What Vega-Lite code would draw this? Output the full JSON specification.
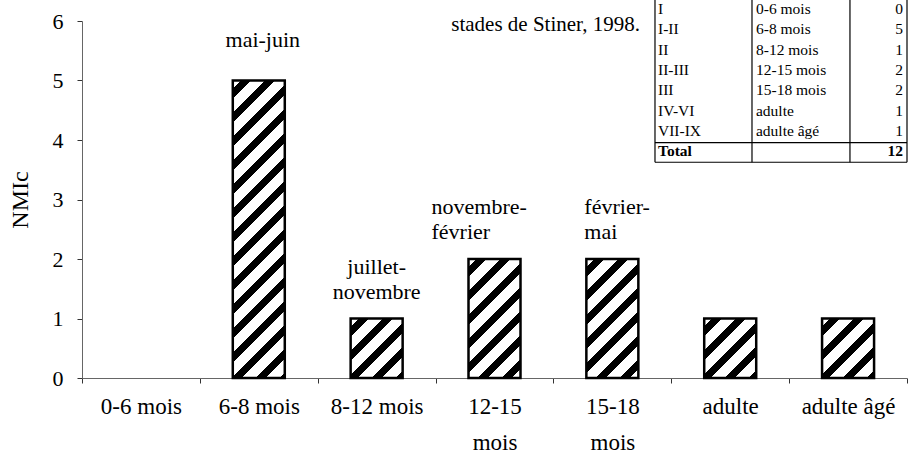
{
  "$schema": "https://vega.github.io/schema/vega-lite/v6.json",
  "width": 825,
  "height": 357,
  "autosize": {"type": "none"},
  "padding": {"left": 82, "top": 21, "right": 2, "bottom": 79},
  "background": "white",
  "config": {"view": {"stroke": null}, "font": "Liberation Serif", "text": {"font": "Liberation Serif", "color": "black"}},
  "datasets": {
    "bars": [
      {"cat": "0-6 mois", "n": 0, "label": ""},
      {"cat": "6-8 mois", "n": 5, "label": "mai-juin"},
      {"cat": "8-12 mois", "n": 1, "label": "juillet-\nnovembre"},
      {"cat": "12-15 mois", "n": 2, "label": "novembre-\nfévrier"},
      {"cat": "15-18 mois", "n": 2, "label": "février-\nmai"},
      {"cat": "adulte", "n": 1, "label": ""},
      {"cat": "adulte âgé", "n": 1, "label": ""}
    ],
    "table": [
      {"row": 0, "stage": "I", "age": "0-6 mois", "count": "0"},
      {"row": 1, "stage": "I-II", "age": "6-8 mois", "count": "5"},
      {"row": 2, "stage": "II", "age": "8-12 mois", "count": "1"},
      {"row": 3, "stage": "II-III", "age": "12-15 mois", "count": "2"},
      {"row": 4, "stage": "III", "age": "15-18 mois", "count": "2"},
      {"row": 5, "stage": "IV-VI", "age": "adulte", "count": "1"},
      {"row": 6, "stage": "VII-IX", "age": "adulte âgé", "count": "1"},
      {"row": 7, "stage": "Total", "age": "", "count": "12"}
    ],
    "tlines": [
      {"x": 0, "x2": 0, "y": -1, "y2": 7.55},
      {"x": 1, "x2": 1, "y": -1, "y2": 7.55},
      {"x": 2.01, "x2": 2.01, "y": -1, "y2": 7.55},
      {"x": 2.598, "x2": 2.598, "y": -1, "y2": 7.55},
      {"x": 0, "x2": 2.598, "y": 6.58, "y2": 6.58},
      {"x": 0, "x2": 2.598, "y": 7.55, "y2": 7.55}
    ],
    "notes": [{"t": "stades de Stiner, 1998."}]
  },
  "layer": [
    {
      "layer": [
        {
          "data": {"name": "bars"},
          "mark": {"type": "bar", "size": 52, "strokeWidth": 2.5, "strokeJoin": "miter"},
          "encoding": {
            "x": {
              "field": "cat", "type": "nominal", "sort": null,
              "scale": {"domain": ["0-6 mois", "6-8 mois", "8-12 mois", "12-15 mois", "15-18 mois", "adulte", "adulte âgé"], "paddingInner": 0, "paddingOuter": 0},
              "axis": {
                "title": null, "labelAngle": 0, "tickBand": "extent",
                "labelFont": "Liberation Serif", "labelFontSize": 23, "labelColor": "black",
                "labelPadding": 12, "labelLineHeight": 36, "tickSize": 5,
                "tickColor": "#333", "domainColor": "#666",
                "labelExpr": "indexof(['12-15 mois','15-18 mois'], datum.value) >= 0 ? split(datum.value, ' ') : datum.value"
              }
            },
            "y": {
              "field": "n", "type": "quantitative",
              "scale": {"domain": [0, 6], "nice": false},
              "axis": {
                "title": "NMIc", "values": [0, 1, 2, 3, 4, 5, 6], "format": "d", "grid": false,
                "tickSize": 5, "labelFont": "Liberation Serif", "labelFontSize": 22, "labelColor": "black",
                "labelPadding": 14, "titleFont": "Liberation Serif", "titleFontSize": 24,
                "titleFontWeight": "normal", "titleColor": "black", "titlePadding": 20,
                "domainColor": "#666", "tickColor": "#333"
              }
            },
            "fill": {
              "condition": [
                {"test": "datum.n == 5", "value": {"gradient": "linear", "x1": 0, "y1": 0, "x2": 0.19925, "y2": 1.13996, "stops": [
                  {"offset": 0, "color": "white"}, {"offset": 0.0229, "color": "white"}, {"offset": 0.0229, "color": "black"}, {"offset": 0.0515, "color": "black"},
                  {"offset": 0.0515, "color": "white"}, {"offset": 0.0916, "color": "white"}, {"offset": 0.0916, "color": "black"}, {"offset": 0.1202, "color": "black"},
                  {"offset": 0.1202, "color": "white"}, {"offset": 0.1602, "color": "white"}, {"offset": 0.1602, "color": "black"}, {"offset": 0.1888, "color": "black"},
                  {"offset": 0.1888, "color": "white"}, {"offset": 0.2289, "color": "white"}, {"offset": 0.2289, "color": "black"}, {"offset": 0.2575, "color": "black"},
                  {"offset": 0.2575, "color": "white"}, {"offset": 0.2976, "color": "white"}, {"offset": 0.2976, "color": "black"}, {"offset": 0.3262, "color": "black"},
                  {"offset": 0.3262, "color": "white"}, {"offset": 0.3662, "color": "white"}, {"offset": 0.3662, "color": "black"}, {"offset": 0.3948, "color": "black"},
                  {"offset": 0.3948, "color": "white"}, {"offset": 0.4349, "color": "white"}, {"offset": 0.4349, "color": "black"}, {"offset": 0.4635, "color": "black"},
                  {"offset": 0.4635, "color": "white"}, {"offset": 0.5036, "color": "white"}, {"offset": 0.5036, "color": "black"}, {"offset": 0.5322, "color": "black"},
                  {"offset": 0.5322, "color": "white"}, {"offset": 0.5722, "color": "white"}, {"offset": 0.5722, "color": "black"}, {"offset": 0.6009, "color": "black"},
                  {"offset": 0.6009, "color": "white"}, {"offset": 0.6409, "color": "white"}, {"offset": 0.6409, "color": "black"}, {"offset": 0.6695, "color": "black"},
                  {"offset": 0.6695, "color": "white"}, {"offset": 0.7096, "color": "white"}, {"offset": 0.7096, "color": "black"}, {"offset": 0.7382, "color": "black"},
                  {"offset": 0.7382, "color": "white"}, {"offset": 0.7783, "color": "white"}, {"offset": 0.7783, "color": "black"}, {"offset": 0.8069, "color": "black"},
                  {"offset": 0.8069, "color": "white"}, {"offset": 0.8469, "color": "white"}, {"offset": 0.8469, "color": "black"}, {"offset": 0.8755, "color": "black"},
                  {"offset": 0.8755, "color": "white"}, {"offset": 0.9156, "color": "white"}, {"offset": 0.9156, "color": "black"}, {"offset": 0.9442, "color": "black"},
                  {"offset": 0.9442, "color": "white"}, {"offset": 0.9843, "color": "white"}, {"offset": 0.9843, "color": "black"}, {"offset": 1, "color": "black"}
                ]}},
                {"test": "datum.n == 2", "value": {"gradient": "linear", "x1": 0, "y1": 0, "x2": 0.52725, "y2": 1.20659, "stops": [
                  {"offset": 0, "color": "white"}, {"offset": 0.0468, "color": "white"}, {"offset": 0.0468, "color": "black"}, {"offset": 0.1053, "color": "black"},
                  {"offset": 0.1053, "color": "white"}, {"offset": 0.1871, "color": "white"}, {"offset": 0.1871, "color": "black"}, {"offset": 0.2456, "color": "black"},
                  {"offset": 0.2456, "color": "white"}, {"offset": 0.3275, "color": "white"}, {"offset": 0.3275, "color": "black"}, {"offset": 0.3860, "color": "black"},
                  {"offset": 0.3860, "color": "white"}, {"offset": 0.4678, "color": "white"}, {"offset": 0.4678, "color": "black"}, {"offset": 0.5263, "color": "black"},
                  {"offset": 0.5263, "color": "white"}, {"offset": 0.6082, "color": "white"}, {"offset": 0.6082, "color": "black"}, {"offset": 0.6667, "color": "black"},
                  {"offset": 0.6667, "color": "white"}, {"offset": 0.7485, "color": "white"}, {"offset": 0.7485, "color": "black"}, {"offset": 0.8070, "color": "black"},
                  {"offset": 0.8070, "color": "white"}, {"offset": 0.8889, "color": "white"}, {"offset": 0.8889, "color": "black"}, {"offset": 0.9474, "color": "black"},
                  {"offset": 0.9474, "color": "white"}, {"offset": 1, "color": "white"}
                ]}}
              ],
              "value": {"gradient": "linear", "x1": 0, "y1": 0, "x2": 0.9285, "y2": 1.0624, "stops": [
                {"offset": 0, "color": "white"}, {"offset": 0.0717, "color": "white"}, {"offset": 0.0717, "color": "black"}, {"offset": 0.1614, "color": "black"},
                {"offset": 0.1614, "color": "white"}, {"offset": 0.2870, "color": "white"}, {"offset": 0.2870, "color": "black"}, {"offset": 0.3767, "color": "black"},
                {"offset": 0.3767, "color": "white"}, {"offset": 0.5022, "color": "white"}, {"offset": 0.5022, "color": "black"}, {"offset": 0.5919, "color": "black"},
                {"offset": 0.5919, "color": "white"}, {"offset": 0.7175, "color": "white"}, {"offset": 0.7175, "color": "black"}, {"offset": 0.8072, "color": "black"},
                {"offset": 0.8072, "color": "white"}, {"offset": 0.9327, "color": "white"}, {"offset": 0.9327, "color": "black"}, {"offset": 1, "color": "black"}
              ]}
            },
            "stroke": {"condition": {"test": "datum.n > 0", "value": "black"}, "value": "transparent"}
          }
        },
        {
          "data": {"name": "bars"},
          "transform": [{"filter": "datum.n == 5"}],
          "mark": {"type": "text", "font": "Liberation Serif", "fontSize": 22, "baseline": "bottom", "dy": -29, "dx": 4, "color": "black"},
          "encoding": {
            "x": {"field": "cat", "type": "nominal", "sort": null},
            "y": {"field": "n", "type": "quantitative"},
            "text": {"field": "label"}
          }
        },
        {
          "data": {"name": "bars"},
          "transform": [{"filter": "datum.cat == '8-12 mois'"}],
          "mark": {"type": "text", "font": "Liberation Serif", "fontSize": 22, "baseline": "bottom", "dy": -40, "lineBreak": "\n", "lineHeight": 25, "color": "black"},
          "encoding": {
            "x": {"field": "cat", "type": "nominal", "sort": null},
            "y": {"field": "n", "type": "quantitative"},
            "text": {"field": "label"}
          }
        },
        {
          "data": {"name": "bars"},
          "transform": [{"filter": "datum.cat == '12-15 mois'"}],
          "mark": {"type": "text", "font": "Liberation Serif", "fontSize": 22, "align": "left", "baseline": "bottom", "dx": -63, "dy": -40, "lineBreak": "\n", "lineHeight": 25, "color": "black"},
          "encoding": {
            "x": {"field": "cat", "type": "nominal", "sort": null},
            "y": {"field": "n", "type": "quantitative"},
            "text": {"field": "label"}
          }
        },
        {
          "data": {"name": "bars"},
          "transform": [{"filter": "datum.cat == '15-18 mois'"}],
          "mark": {"type": "text", "font": "Liberation Serif", "fontSize": 22, "align": "left", "baseline": "bottom", "dx": -28, "dy": -40, "lineBreak": "\n", "lineHeight": 25, "color": "black"},
          "encoding": {
            "x": {"field": "cat", "type": "nominal", "sort": null},
            "y": {"field": "n", "type": "quantitative"},
            "text": {"field": "label"}
          }
        }
      ]
    },
    {
      "layer": [
        {
          "data": {"name": "tlines"},
          "mark": {"type": "rule", "color": "black", "strokeWidth": 1.2},
          "encoding": {
            "x": {"field": "x", "type": "quantitative", "scale": {"domain": [-5.907, 2.598], "nice": false, "zero": false}, "axis": null},
            "x2": {"field": "x2"},
            "y": {"field": "y", "type": "quantitative", "scale": {"domain": [0.591, 18.177], "reverse": true, "nice": false, "zero": false}, "axis": null},
            "y2": {"field": "y2"}
          }
        },
        {
          "data": {"name": "table"},
          "transform": [{"filter": "datum.row < 7"}],
          "mark": {"type": "text", "align": "left", "baseline": "middle", "dx": 3, "fontSize": 15.5, "font": "Liberation Serif", "color": "black"},
          "encoding": {
            "x": {"datum": 0, "type": "quantitative"},
            "y": {"field": "row", "type": "quantitative"},
            "text": {"field": "stage"}
          }
        },
        {
          "data": {"name": "table"},
          "mark": {"type": "text", "align": "left", "baseline": "middle", "dx": 4, "fontSize": 15.5, "font": "Liberation Serif", "color": "black"},
          "encoding": {
            "x": {"datum": 1, "type": "quantitative"},
            "y": {"field": "row", "type": "quantitative"},
            "text": {"field": "age"}
          }
        },
        {
          "data": {"name": "table"},
          "transform": [{"filter": "datum.row < 7"}],
          "mark": {"type": "text", "align": "right", "baseline": "middle", "dx": -4, "fontSize": 15.5, "font": "Liberation Serif", "color": "black"},
          "encoding": {
            "x": {"datum": 2.598, "type": "quantitative"},
            "y": {"field": "row", "type": "quantitative"},
            "text": {"field": "count"}
          }
        },
        {
          "data": {"name": "table"},
          "transform": [{"filter": "datum.row == 7"}],
          "mark": {"type": "text", "align": "left", "baseline": "middle", "dx": 3, "fontSize": 15.5, "fontWeight": "bold", "font": "Liberation Serif", "color": "black"},
          "encoding": {
            "x": {"datum": 0, "type": "quantitative"},
            "y": {"field": "row", "type": "quantitative"},
            "text": {"field": "stage"}
          }
        },
        {
          "data": {"name": "table"},
          "transform": [{"filter": "datum.row == 7"}],
          "mark": {"type": "text", "align": "right", "baseline": "middle", "dx": -4, "fontSize": 15.5, "fontWeight": "bold", "font": "Liberation Serif", "color": "black"},
          "encoding": {
            "x": {"datum": 2.598, "type": "quantitative"},
            "y": {"field": "row", "type": "quantitative"},
            "text": {"field": "count"}
          }
        },
        {
          "data": {"name": "notes"},
          "mark": {"type": "text", "align": "right", "baseline": "middle", "fontSize": 21, "font": "Liberation Serif", "color": "black"},
          "encoding": {
            "x": {"datum": -0.155, "type": "quantitative"},
            "y": {"datum": 0.79, "type": "quantitative"},
            "text": {"field": "t"}
          }
        }
      ]
    }
  ],
  "resolve": {"scale": {"x": "independent", "y": "independent"}}
}
